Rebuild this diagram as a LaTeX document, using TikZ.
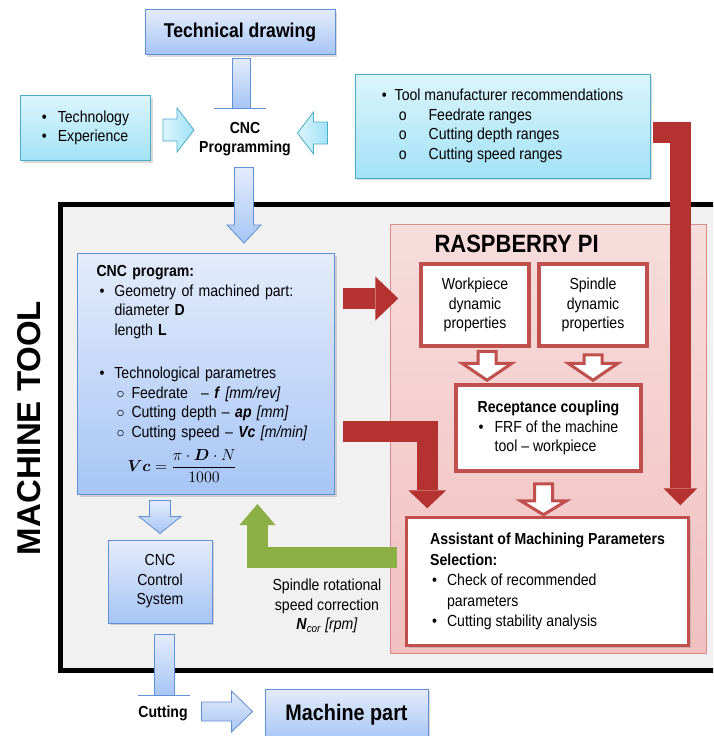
\RequirePackage{fix-cm}
\documentclass[tikz,border=0pt]{standalone}
\usepackage{amsmath}
\usepackage{fontspec}
\setmainfont{Liberation Sans}[FakeStretch=0.88]
\newfontfamily\plainsans{Liberation Sans}
\usetikzlibrary{calc, arrows.meta, shadows}

\definecolor{bluetop}{RGB}{228, 236, 252}
\definecolor{bluebot}{RGB}{166, 197, 245}
\definecolor{blueline}{RGB}{98, 143, 214}
\definecolor{cyantop}{RGB}{220, 245, 252}
\definecolor{cyanbot}{RGB}{162, 226, 246}
\definecolor{cyanline}{RGB}{75, 172, 198}
\definecolor{redline}{RGB}{192, 80, 77}
\definecolor{pinktop}{RGB}{247, 220, 220}
\definecolor{pinkbot}{RGB}{241, 192, 192}
\definecolor{pinkline}{RGB}{215, 140, 138}
\definecolor{darkred}{RGB}{180, 50, 47}
\definecolor{grass}{RGB}{140, 176, 70}
\definecolor{framegray}{RGB}{241, 241, 241}

\newcommand{\bodyfont}{\fontsize{16}{19.5}\selectfont}
% block arrow: style, tail, tip, half shaft, half head, head length
\newcommand{\fatarrow}[6][]{%
  \coordinate (hb) at ($(#3)!#6!(#2)$);
  \draw[#1] ($(#2)!#4!90:(#3)$) -- ($(hb)!#4!90:(#3)$) -- ($(hb)!#5!90:(#3)$) -- (#3)
    -- ($(hb)!#5!-90:(#3)$) -- ($(hb)!#4!-90:(#3)$) -- ($(#2)!#4!-90:(#3)$) -- cycle;
}

\tikzset{
  softshadow/.style={drop shadow={shadow xshift=2pt, shadow yshift=-2pt, opacity=0.3}},
  bluebox/.style={draw=blueline, line width=1pt, top color=bluetop, bottom color=bluebot, softshadow},
  cyanbox/.style={draw=cyanline, line width=1pt, top color=cyantop, bottom color=cyanbot, softshadow},
  redbox/.style={draw=redline, line width=3.5pt, fill=white, softshadow},
  bluearrow/.style={draw=blueline, line width=0.8pt, top color=bluetop, bottom color=bluebot},
  cyanarrow/.style={draw=cyanline, line width=0.8pt, left color=cyantop, right color=cyanbot},
  whitearrow/.style={draw=redline, line width=3pt, fill=white, line join=miter},
  redarrow/.style={draw=darkred, line width=21pt},
  greenarrow/.style={draw=grass, line width=21pt},
  boldtext/.style={font=\fontsize{16}{19.5}\selectfont\bfseries}
}

\begin{document}
\begin{tikzpicture}[x=1pt, y=-1pt, font=\bodyfont]
  \path[use as bounding box] (0,0) rectangle (713,736);
  \clip (0,0) rectangle (713,736);

  % Machine tool frame
  \draw[line width=5pt, fill=framegray] (60.5,204) rectangle (730,670);
  \node[rotate=90, font=\plainsans\fontsize{33}{36}\selectfont\bfseries] (mtlabel) at (29,428) {MACHINE TOOL};

  % Raspberry Pi
  \draw[pinkline, line width=1pt, top color=pinktop, bottom color=pinkbot] (390,224) rectangle (706,653);
  \node[anchor=west, font=\fontsize{25}{28}\selectfont\bfseries] (rpi) at (431,244) {RASPBERRY PI};

  % Inputs
  \node[bluebox, minimum width=190, minimum height=45, font=\fontsize{20}{24}\selectfont\bfseries] (tdraw) at (240,32) {Technical drawing};
  \node[boldtext, align=center] (prog) at (245,139) {CNC\\Programming};
  \node[cyanbox, minimum width=130, minimum height=65, align=left] (tech) at (85.5,128)
    {\textbullet\hspace*{11pt}Technology\\\textbullet\hspace*{11pt}Experience};
  \node[cyanbox, minimum width=295, minimum height=104, align=left, text depth=4pt] (tool) at (502.5,126)
    {\textbullet\hspace*{8pt}Tool manufacturer recommendations\\
     \hspace*{17pt}o\hspace*{22pt}Feedrate ranges\\
     \hspace*{17pt}o\hspace*{22pt}Cutting depth ranges\\
     \hspace*{17pt}o\hspace*{22pt}Cutting speed ranges};

  % CNC program
  \node[bluebox, minimum width=257, minimum height=241, inner xsep=19pt, text width=219pt, align=left] (cncprog) at (206,374)
    {\textbf{CNC program:}\\
     \hspace*{3pt}\textbullet\hspace*{10pt}Geometry of machined part:\\
     \hspace*{18pt}diameter \textbf{D}\\
     \hspace*{18pt}length \textbf{L}\\[24pt]
     \hspace*{3pt}\textbullet\hspace*{10pt}Technological parametres\\
     \hspace*{20pt}$\circ$\hspace*{7pt}Feedrate \enskip-- \textbf{\textit{f}} \textit{[mm/rev]}\\
     \hspace*{20pt}$\circ$\hspace*{7pt}Cutting depth -- \textbf{\textit{ap}} \textit{[mm]}\\
     \hspace*{20pt}$\circ$\hspace*{7pt}Cutting speed -- \textbf{\textit{Vc}} \textit{[m/min]}\\[8pt]
     \hspace*{31pt}$\displaystyle \boldsymbol{Vc}=\frac{\pi\cdot\boldsymbol{D}\cdot N}{1000}$};
  \node[bluebox, minimum width=104, minimum height=83, align=center] (ctrl) at (160,581.5) {CNC\\Control\\System};
  \node[boldtext] (cut) at (163,713) {Cutting};
  \node[bluebox, minimum width=163, minimum height=52, font=\fontsize{22.5}{26}\selectfont\bfseries] (mpart) at (346.5,715) {Machine part};

  % Raspberry Pi boxes
  \node[redbox, minimum width=108, minimum height=82, align=center] (work) at (475,305) {Workpiece\\dynamic\\properties};
  \node[redbox, minimum width=108, minimum height=82, align=center] (spin) at (593,305) {Spindle\\dynamic\\properties};
  \node[redbox, minimum width=185, minimum height=86, align=left] (recep) at (548.5,428)
    {\textbf{Receptance coupling}\\
     \hspace*{1pt}\textbullet\hspace*{11pt}FRF of the machine\\
     \hspace*{17pt}tool -- workpiece};
  \node[redbox, minimum width=282, minimum height=128, align=left, font=\fontsize{16}{20.5}\selectfont] (assist) at (547.5,581.5)
    {\textbf{Assistant of Machining Parameters}\\
     \textbf{Selection:}\\
     \hspace*{2pt}\textbullet\hspace*{10pt}Check of recommended\\
     \hspace*{17pt}parameters\\
     \hspace*{2pt}\textbullet\hspace*{10pt}Cutting stability analysis};
  \node[align=center] (ncor) at (327,606)
    {Spindle rotational\\speed correction\\\textbf{\textit{N}}\textsubscript{\textit{cor}} \textit{[rpm]}};

  % Tee stems
  \coordinate (tee1) at ($(tdraw.south)+(0,53)$);
  \draw[bluearrow] ($(tdraw.south)+(-8,3)$) rectangle ($(tee1)+(10,0)$);
  \draw[blueline, line width=1pt] ($(tee1)+(-26,0)$) -- ($(tee1)+(26,0)$);
  \coordinate (tee2) at ($(ctrl.south)+(4,72)$);
  \draw[bluearrow] ($(ctrl.south)+(-6,11)$) rectangle ($(tee2)+(10,0)$);
  \draw[blueline, line width=1pt] ($(tee2)+(-26,0)$) -- ($(tee2)+(26,0)$);

  % Blue and cyan arrows
  \coordinate (a1s) at ($(tech.east)+(12,2)$);
  \coordinate (a1e) at ($(tech.east)+(43,2)$);
  \fatarrow[cyanarrow]{a1s}{a1e}{11pt}{22pt}{17pt}
  \coordinate (a2s) at ($(tool.west)+(-27,7)$);
  \coordinate (a2e) at ($(tool.west)+(-57,7)$);
  \fatarrow[cyanarrow]{a2s}{a2e}{11pt}{21pt}{16pt}
  \coordinate (a3s) at ($(prog.south)+(-1,8)$);
  \coordinate (a3e) at ($(a3s |- cncprog.north)+(0,-10)$);
  \fatarrow[bluearrow]{a3s}{a3e}{9.5pt}{17pt}{18pt}
  \coordinate (a4s) at ($(ctrl.north)+(0,-39)$);
  \coordinate (a4e) at ($(ctrl.north)+(0,-6)$);
  \fatarrow[bluearrow]{a4s}{a4e}{10.5pt}{21pt}{17pt}
  \coordinate (a5e) at ($(mpart.west)+(-12,-3.5)$);
  \coordinate (a5s) at ($(a5e)+(-51,0)$);
  \fatarrow[bluearrow]{a5s}{a5e}{9.5pt}{20.5pt}{21pt}

  % White arrows
  \coordinate (w1s) at ($(work.south)+(12,3.5)$);
  \coordinate (w1e) at ($(w1s |- recep.north)+(0,-3)$);
  \fatarrow[whitearrow]{w1s}{w1e}{9pt}{25pt}{17pt}
  \coordinate (w2s) at ($(spin.south)+(0,7)$);
  \coordinate (w2e) at ($(spin.south |- recep.north)+(0,-3)$);
  \fatarrow[whitearrow]{w2s}{w2e}{9pt}{25pt}{17pt}
  \coordinate (w3s) at ($(recep.south)+(-5,11)$);
  \coordinate (w3e) at ($(recep.south)+(-5,42)$);
  \fatarrow[whitearrow]{w3s}{w3e}{9pt}{23pt}{14pt}

  % Red arrows
  \coordinate (r1s) at ($(cncprog.north east)+(8,45.5)$);
  \coordinate (r1e) at ($(r1s -| work.west)+(-21,0)$);
  \draw[redarrow, -{Triangle[length=23pt, width=44pt, line width=0pt]}] (r1s) -- (r1e);
  \coordinate (r2s) at ($(cncprog.east)+(8,57)$);
  \coordinate (r2e) at ($(assist.north west)+(22.5,-7.5)$);
  \draw[redarrow, -{Triangle[length=18pt, width=38pt, line width=0pt]}] (r2s) -| (r2e);
  \coordinate (r3s) at ($(tool.east)+(2,6.5)$);
  \coordinate (r3e) at ($(assist.north east)+(-10,-10.5)$);
  \draw[redarrow, -{Triangle[length=17pt, width=34pt, line width=0pt]}] (r3s) -| (r3e);

  % Green feedback
  \coordinate (g1s) at ($(assist.west)+(-8,-24)$);
  \coordinate (g1e) at ($(cncprog.south)+(51.5,9)$);
  \draw[greenarrow, -{Triangle[length=21pt, width=36pt, line width=0pt]}] (g1s) -| (g1e);
\end{tikzpicture}
\end{document}
